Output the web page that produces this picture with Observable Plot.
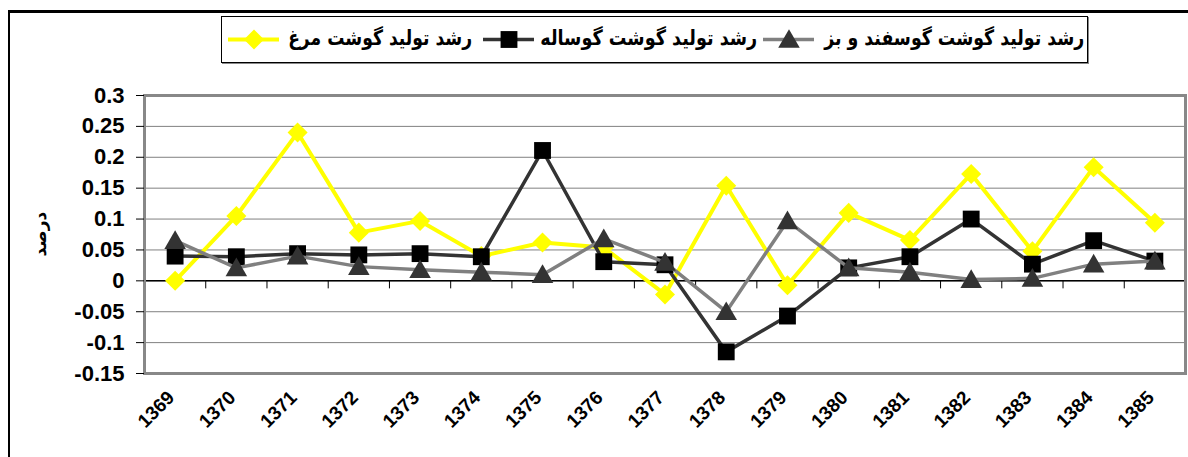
<!DOCTYPE html>
<html>
<head>
<meta charset="utf-8">
<script src="https://cdn.jsdelivr.net/npm/d3@7"></script>
<script src="https://cdn.jsdelivr.net/npm/@observablehq/plot@0.6"></script>
<style>
  html, body { margin: 0; padding: 0; background: #fff; }
  #wrap { position: relative; width: 1188px; height: 457px; overflow: hidden; background: #fff; }
  #outer { position: absolute; left: 8px; top: 10px; width: 1300px; height: 500px; border-top: 3px solid #000; border-left: 2px solid #000; }
  #chart { position: absolute; left: 0; top: 0; }
  #legend { position: absolute; left: 221px; top: 16px; width: 865px; height: 45px; border: 1px solid #000; box-shadow: 1px 1px 0 #888; background: #fff; }
  .sw { position: absolute; top: 11px; }
  .lt { position: absolute; top: 6px; font-family: "DejaVu Sans", sans-serif; font-weight: bold; font-size: 21px; line-height: 30px; color: #000; white-space: nowrap; direction: rtl; transform-origin: right center; }
</style>
</head>
<body>
<div id="wrap">
  <div id="outer"></div>
  <div id="chart"></div>
  <div id="legend"></div>
</div>
<script>
// ---- data ----
const years = ["1369","1370","1371","1372","1373","1374","1375","1376","1377","1378","1379","1380","1381","1382","1383","1384","1385"];
const chicken = [0, 0.105, 0.24, 0.078, 0.097, 0.04, 0.062, 0.054, -0.022, 0.154, -0.007, 0.11, 0.066, 0.173, 0.048, 0.184, 0.094];
const calf    = [0.04, 0.039, 0.044, 0.042, 0.044, 0.039, 0.211, 0.031, 0.026, -0.115, -0.057, 0.021, 0.039, 0.1, 0.027, 0.065, 0.032];
const sheep   = [0.065, 0.021, 0.04, 0.023, 0.018, 0.014, 0.01, 0.068, 0.03, -0.05, 0.097, 0.021, 0.014, 0.002, 0.004, 0.027, 0.032];
const seriesNames = ["رشد تولید گوشت مرغ", "رشد تولید گوشت گوساله", "رشد تولید گوشت گوسفند و بز"];
const yTicks = [0.3, 0.25, 0.2, 0.15, 0.1, 0.05, 0, -0.05, -0.1, -0.15];
const yLabel = "درصد";

// ---- build ----
const idx = years.map((_, i) => i);
const boundaries = idx.slice(1).map(i => i - 0.5);
const rows = (vals) => vals.map((v, i) => ({i, year: years[i], v}));

const diamond = { draw(ctx, size) { const h = Math.sqrt(size / 2); ctx.moveTo(0, -h); ctx.lineTo(h, 0); ctx.lineTo(0, h); ctx.lineTo(-h, 0); ctx.closePath(); } };
const triangle = { draw(ctx, size) { const s = Math.sqrt(size * 4 / Math.sqrt(3)); const h = s * Math.sqrt(3) / 2; ctx.moveTo(0, -h / 2 - 1); ctx.lineTo(s / 2, h / 2 - 1); ctx.lineTo(-s / 2, h / 2 - 1); ctx.closePath(); } };

const styles = [
  {vals: chicken, line: "#FFFF00", lw: 4, symbol: diamond, fill: "#FFFF00", r: 8},
  {vals: calf, line: "#333333", lw: 3.5, symbol: "square", fill: "#000000", r: 9.5},
  {vals: sheep, line: "#808080", lw: 3.5, symbol: triangle, fill: "#333333", r: 8}
];

const seriesMarks = styles.flatMap(s => [
  Plot.line(rows(s.vals), {x: "i", y: "v", stroke: s.line, strokeWidth: s.lw, strokeLinejoin: "miter"}),
  Plot.dot(rows(s.vals), {x: "i", y: "v", symbol: s.symbol, r: s.r, fill: s.fill, stroke: "none"})
]);

const chart = Plot.plot({
  width: 1188,
  height: 457,
  marginTop: 95,
  marginLeft: 144,
  marginRight: 3,
  marginBottom: 84,
  style: {fontFamily: "'Liberation Sans', Arial, sans-serif", fontWeight: "bold", color: "#000", background: "transparent", overflow: "visible"},
  x: {domain: [-0.5, 16.5]},
  y: {domain: [-0.15, 0.3]},
  marks: [
    Plot.gridY(yTicks, {stroke: "#808080", strokeOpacity: 1, strokeWidth: 1}),
    Plot.ruleY([0], {stroke: "#000", strokeWidth: 1.5}),
    Plot.ruleX(boundaries, {y1: 0, y2: -0.013, stroke: "#000", strokeWidth: 1}),
    Plot.frame({stroke: "#888888", strokeWidth: 3}),
    Plot.axisY(yTicks, {label: null, tickSize: 8, tickPadding: 12, tickFormat: d => String(d), fontSize: 22, fontWeight: "bold", stroke: "#000"}),
    Plot.axisX(idx, {label: null, tickSize: 0, tickRotate: -45, tickPadding: 21, dx: -4, tickFormat: i => years[i], fontSize: 19, fontWeight: "bold"}),
    ...seriesMarks,
    Plot.text([yLabel], {frameAnchor: "left", dx: -104, dy: 22, rotate: -90, fontFamily: "'DejaVu Sans', sans-serif", fontSize: 17, fontWeight: "bold", fill: "#000"})
  ]
});
document.getElementById("chart").append(chart);

// ---- legend ----
const legend = document.getElementById("legend");
const L0 = 222; // legend inner left in page coords
const swatchX = [228, 483, 763];
const textSpan = [[288, 472], [540, 757], [824, 1084]];
styles.forEach((s, k) => {
  const sw = Plot.plot({
    width: 51, height: 22, margin: 0,
    x: {domain: [0, 2], axis: null}, y: {domain: [0, 1], axis: null},
    style: {background: "transparent", overflow: "visible"},
    marks: [
      Plot.ruleY([0.5], {x1: 0, x2: 2, stroke: s.line, strokeWidth: s.lw}),
      Plot.dot([{x: 1, y: 0.5}], {x: "x", y: "y", symbol: s.symbol, r: s.r, fill: s.fill})
    ]
  });
  sw.classList.add("sw");
  sw.style.left = (swatchX[k] - L0) + "px";
  legend.append(sw);
  const span = document.createElement("div");
  span.className = "lt";
  span.textContent = seriesNames[k];
  legend.append(span);
  const [a, b] = textSpan[k];
  span.style.right = (L0 + 865 - b) + "px";
  const w = span.getBoundingClientRect().width;
  span.style.transform = `scaleX(${(b - a) / w})`;
});
</script>
</body>
</html>
